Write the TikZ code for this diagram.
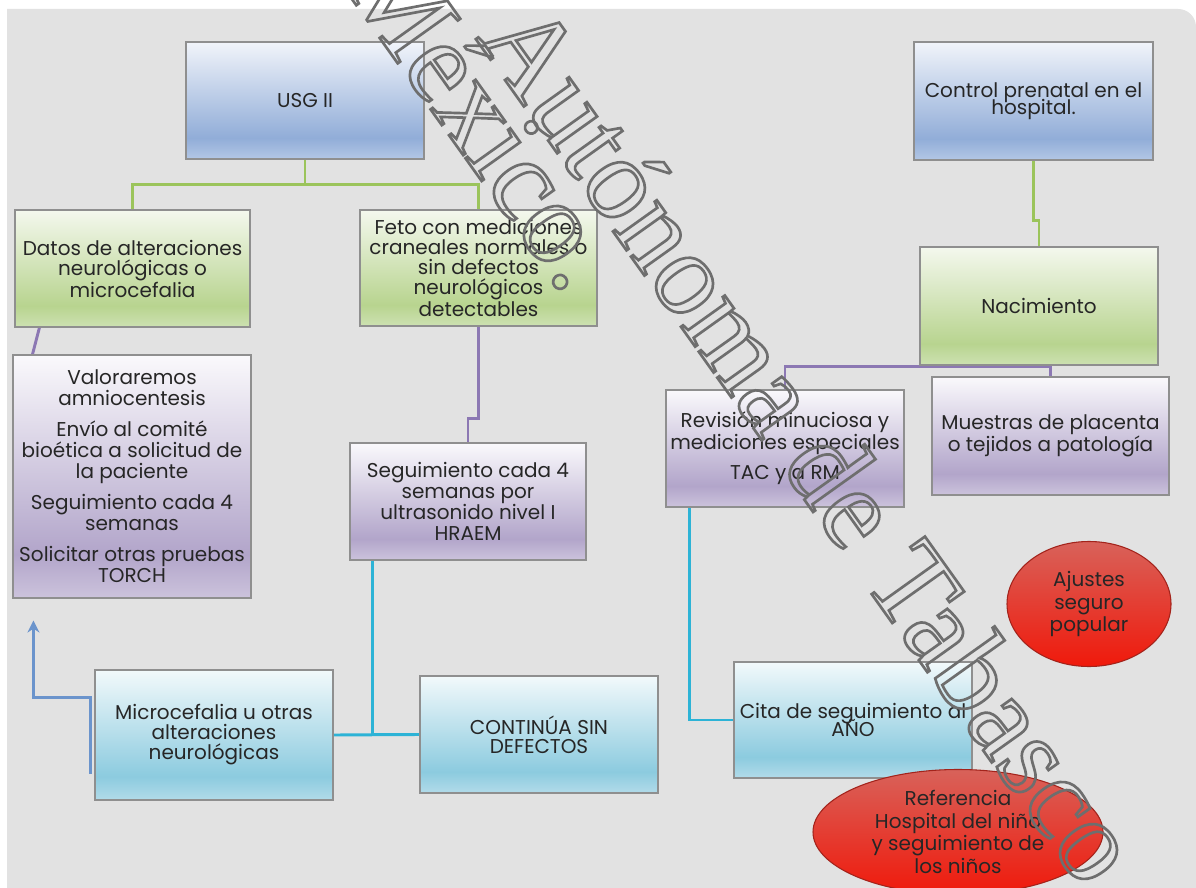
\documentclass[tikz,border=0pt]{standalone}
\usepackage{fontspec}
\setmainfont{Poppins}
\newfontfamily\wmfont{Liberation Serif}
\usepackage{xcolor}
\usetikzlibrary{shapes.geometric,arrows.meta,calc}
\definecolor{bggray}{HTML}{E2E2E2}
\definecolor{edge}{HTML}{8F8F8F}
\definecolor{ink}{HTML}{262626}
\definecolor{bluetop}{HTML}{F1F4FA}
\definecolor{bluemid}{HTML}{91ADD8}
\definecolor{bluebot}{HTML}{B3C7E5}
\definecolor{greentop}{HTML}{F4F8EE}
\definecolor{greenmid}{HTML}{B8D48F}
\definecolor{greenbot}{HTML}{CDE1B2}
\definecolor{purpletop}{HTML}{FAF9FC}
\definecolor{purplemid}{HTML}{B2A5CA}
\definecolor{purplebot}{HTML}{CCC3DC}
\definecolor{cyantop}{HTML}{F2F9FB}
\definecolor{cyanmid}{HTML}{8CCBDF}
\definecolor{cyanbot}{HTML}{B2DBE9}
\definecolor{redtop}{HTML}{D8625A}
\definecolor{redbot}{HTML}{F0190B}
\definecolor{redline}{HTML}{A3231B}
\definecolor{greenlink}{HTML}{9BC45B}
\definecolor{purplelink}{HTML}{8C78B3}
\definecolor{cyanlink}{HTML}{2DB3D6}
\definecolor{bluelink}{HTML}{6B94CC}
\definecolor{wmgray}{HTML}{6E6E6E}

\pgfdeclareverticalshading{blueshade}{100bp}{color(0bp)=(bluebot); color(25bp)=(bluebot); color(34bp)=(bluemid); color(75bp)=(bluetop); color(100bp)=(bluetop)}
\pgfdeclareverticalshading{greenshade}{100bp}{color(0bp)=(greenbot); color(25bp)=(greenbot); color(34bp)=(greenmid); color(75bp)=(greentop); color(100bp)=(greentop)}
\pgfdeclareverticalshading{purpleshade}{100bp}{color(0bp)=(purplebot); color(25bp)=(purplebot); color(34bp)=(purplemid); color(75bp)=(purpletop); color(100bp)=(purpletop)}
\pgfdeclareverticalshading{cyanshade}{100bp}{color(0bp)=(cyanbot); color(25bp)=(cyanbot); color(34bp)=(cyanmid); color(75bp)=(cyantop); color(100bp)=(cyantop)}

\pgfdeclarelayer{back}
\pgfdeclarelayer{links}
\pgfsetlayers{back,links,main}

\newcommand{\wmtext}[1]{\special{pdf:literal direct 1 Tr 2 w}#1\special{pdf:literal direct 0 Tr}}
\newcommand{\tightlines}[1]{\fontsize{15}{#1}\selectfont\lineskiplimit -20pt\relax}

\begin{document}
\begin{tikzpicture}[x=0.75pt,y=0.75pt,yscale=-1,xscale=1,
	box/.style={draw=edge,line width=0.8pt,inner sep=2pt,align=center,text=ink,font=\fontsize{15}{15}\selectfont},
	tight/.style={font=\tightlines{13}},
	boxsize/.style 2 args={minimum width=#1*0.75pt,minimum height=#2*0.75pt},
	bluebox/.style={box,shading=blueshade},
	greenbox/.style={box,shading=greenshade},
	purplebox/.style={box,shading=purpleshade},
	cyanbox/.style={box,shading=cyanshade},
	redoval/.style={ellipse,draw=redline,line width=0.8pt,inner sep=0pt,align=center,text=ink,font=\fontsize{15}{17}\selectfont,top color=redtop,bottom color=redbot},
	link/.style={line width=2.2pt},
	wmark/.style={inner sep=0pt,anchor=base west,rotate=-54.5,text=wmgray,font=\wmfont\fontsize{88}{88}\selectfont}]
	\useasboundingbox (0,0) rectangle (1196,888);
	\begin{pgfonlayer}{back}
	\fill[white] (0,0) rectangle (1196,888);
	\fill[bggray] (7,888) -- (7,9) -- (1178,9) .. controls (1188,9) and (1196,17) .. (1196,27) -- (1196,888) -- cycle;
	\end{pgfonlayer}

	\node[bluebox,boxsize={238}{117}] (usg) at (305,100.5) {USG II};
	\node[bluebox,boxsize={239}{118},tight] (control) at (1033.5,101) {Control prenatal en el\\hospital.};
	\node[greenbox,boxsize={235}{117}] (datos) at (132.5,268.5) {Datos de alteraciones\\neurológicas o\\microcefalia};
	\node[greenbox,boxsize={237}{116}] (feto) at (478.5,268) {Feto con mediciones\\craneales normales o\\sin defectos\\neurológicos\\detectables};
	\node[greenbox,boxsize={238}{118}] (nac) at (1039,306) {Nacimiento};
	\node[purplebox,boxsize={238}{243},font=\fontsize{15}{15.75}\selectfont] (valor) at (132,476.5) {Valoraremos\\amniocentesis\\[7.5pt]Envío al comité\\bioética a solicitud de\\la paciente\\[7.5pt]Seguimiento cada 4\\semanas\\[7.5pt]Solicitar otras pruebas\\TORCH};
	\node[purplebox,boxsize={236}{117},font=\fontsize{15}{15.75}\selectfont] (seg) at (468,501.5) {Seguimiento cada 4\\semanas por\\ultrasonido nivel I\\HRAEM};
	\node[purplebox,boxsize={238}{117}] (rev) at (785,448.5) {Revisión minuciosa y\\mediciones especiales\\[7.5pt]TAC y a RM};
	\node[purplebox,boxsize={237}{118}] (mues) at (1050.5,436) {Muestras de placenta\\o tejidos a patología};
	\node[cyanbox,boxsize={238}{130}] (micro) at (214,735) {Microcefalia u otras\\alteraciones\\neurológicas};
	\node[cyanbox,boxsize={238}{117},font=\tightlines{14}] (cont) at (539,734.5) {CONTINÚA SIN\\DEFECTOS};
	\node[cyanbox,boxsize={238}{116},tight] (cita) at (853,720) {Cita de seguimiento al\\AÑO};
	\node[redoval,boxsize={164}{125}] (ajustes) at (1089,604) {Ajustes\\seguro\\popular};
	\node[redoval,boxsize={290}{125}] (refe) at (958,832) {Referencia\\Hospital del niño\\y seguimiento de\\los niños};

	\begin{pgfonlayer}{links}
	\draw[greenlink,link] (usg.south) -- ++(0,25) -| (datos.north);
	\draw[greenlink,link] (usg.south) -- ++(0,25) -| (feto.north);
	\draw[greenlink,link] (control.south) -- ++(0,60) -| (nac.north);
	\draw[purplelink,link] ($(datos.south west)+(25,0)$) -- ($(valor.north west)+(20,0)$);
	\draw[purplelink,link] (feto.south) -- ++(0,92) -| (seg.north);
	\draw[purplelink,link] (mues.north) -- ++(0,-10) -| (rev.north);
	\draw[cyanlink,link] ($(seg.south west)+(23,0)$) |- (cont.west);
	\draw[cyanlink,link] (micro.east) -- (cont.west);
	\draw[cyanlink,link] ($(rev.south west)+(24,0)$) |- (cita.west);
	\draw[bluelink,link,line width=2.4pt,-{Stealth[length=9pt,width=9pt]}] ($(micro.south west)+(-4,-27)$) -- ++(0,-76) -| ($(valor.south west)+(21,22)$);
	\end{pgfonlayer}

	\node[wmark] (wmone) at (475,38) {\wmtext{Autónoma de Tabasco}};
	\node[wmark] (wmtwo) at (339,-19) {\wmtext{México.}};
\end{tikzpicture}
\end{document}
